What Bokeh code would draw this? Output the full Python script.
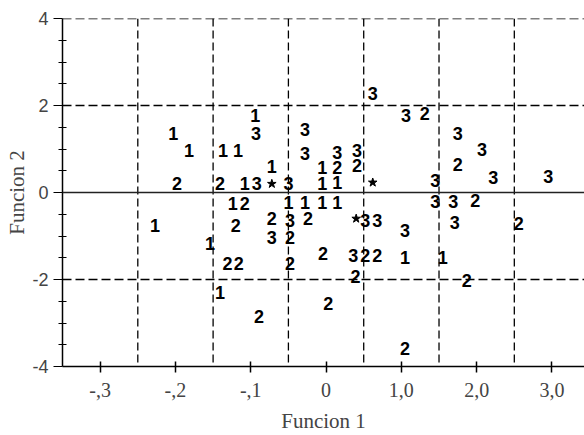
from bokeh.plotting import figure
from bokeh.models import (ColumnDataSource, FixedTicker, Span, Range1d)
from bokeh.core.properties import value
from bokeh.embed import file_html
from bokeh.resources import INLINE

# --- data (discriminant function scores) ---
g1_x = [-2.03, -1.82, -1.37, -1.17, -0.94, -0.72, -1.08, -1.24, -0.50, -0.28,
        -0.05, 0.15, -0.05, 0.15, -0.05, -2.27, -1.54, -1.41, 1.05, 1.55]
g1_y = [1.36, 0.97, 0.97, 0.97, 1.77, 0.60, 0.20, -0.25, -0.22, -0.23,
        -0.23, -0.23, 0.20, 0.23, 0.57, -0.76, -1.17, -2.30, -1.49, -1.49]

g2_x = [-1.98, -1.41, -1.08, -1.20, -0.72, -0.24, -0.48, -1.31, -1.16, -0.48,
        -0.89, 0.15, 0.41, -0.04, 0.52, 0.68, 0.39, 0.03, 1.05, 1.87,
        2.56, 1.98, 1.75, 1.31]
g2_y = [0.20, 0.20, -0.25, -0.76, -0.60, -0.60, -1.03, -1.63, -1.63, -1.63,
        -2.85, 0.57, 0.62, -1.40, -1.45, -1.45, -1.93, -2.55, -3.58, -2.02,
        -0.71, -0.18, 0.64, 1.82]

g3_x = [-0.93, -0.92, -0.50, -0.28, -0.28, 0.15, 0.41, -0.48, -0.72, 0.52,
        0.68, 1.05, 0.36, 0.62, 1.06, 1.75, 2.07, 2.22, 2.95, 1.45,
        1.45, 1.69, 1.71]
g3_y = [1.36, 0.20, 0.20, 1.45, 0.90, 0.92, 0.97, -0.64, -1.03, -0.64,
        -0.64, -0.87, -1.45, 2.27, 1.77, 1.36, 1.00, 0.35, 0.37, 0.28,
        -0.20, -0.20, -0.69]

centroid_x = [-0.72, 0.62, 0.40]
centroid_y = [0.20, 0.23, -0.60]

x_ticks = [-3, -2, -1, 0, 1, 2, 3]
x_tick_labels = ["-,3", "-,2", "-,1", "0", "1,0", "2,0", "3,0"]
y_ticks = [-4, -2, 0, 2, 4]
y_tick_labels = ["-4", "-2", "0", "2", "4"]
y_minor = [-3.5, -3, -2.5, -1.5, -1, -0.5, 0.5, 1, 1.5, 2.5, 3, 3.5]
v_lines = [-2.5, -1.5, -0.5, 0.5, 1.5, 2.5]
h_dashed = [-2, 2, 4]

xs = g1_x + g2_x + g3_x
ys = g1_y + g2_y + g3_y
labels = ["1"] * len(g1_x) + ["2"] * len(g2_x) + ["3"] * len(g3_x)
src = ColumnDataSource(dict(x=xs, y=ys, t=labels))

p = figure(width=584, height=435, output_backend="svg", toolbar_location=None,
           x_range=Range1d(-3.5, 3.432), y_range=Range1d(-4, 4),
           min_border_left=62, min_border_right=0, min_border_top=18,
           min_border_bottom=69)
p.outline_line_color = None
p.background_fill_color = "white"
p.border_fill_color = "white"
p.xgrid.visible = False
p.ygrid.visible = False

for xv in v_lines:
    p.add_layout(Span(location=xv, dimension="height", line_color="black",
                      line_width=1.3, line_dash="8 4"))
for yv in h_dashed:
    p.add_layout(Span(location=yv, dimension="width", line_color="black",
                      line_width=1.3, line_dash="9 4"))
p.add_layout(Span(location=0, dimension="width", line_color="#222222",
                  line_width=1.5))

p.text(x="x", y="y", text="t", source=src, text_align="center",
       text_baseline="middle", text_font=value("Liberation Sans"),
       text_font_style="bold", text_font_size="18px", text_color="black")
p.scatter(centroid_x, centroid_y, marker="star", size=9, color="black")

# x axis
p.xaxis.ticker = FixedTicker(ticks=x_ticks)
p.xaxis.major_label_overrides = {t: l for t, l in zip(x_ticks, x_tick_labels)}
p.xaxis.major_tick_in = 5
p.xaxis.major_tick_out = 6
p.xaxis.minor_tick_line_color = None
p.xaxis.major_label_text_font = "Liberation Serif"
p.xaxis.major_label_text_font_size = "20px"
p.xaxis.major_label_standoff = 10
p.xaxis.axis_line_width = 1.5
p.xaxis.major_tick_line_width = 1.5
p.xaxis.axis_label = "Funcion 1"
p.xaxis.axis_label_text_font = "Liberation Serif"
p.xaxis.axis_label_text_font_style = "normal"
p.xaxis.axis_label_text_font_size = "21px"
p.xaxis.axis_label_standoff = 9

# y axis
p.yaxis.ticker = FixedTicker(ticks=y_ticks, minor_ticks=y_minor)
p.yaxis.major_label_overrides = {t: l for t, l in zip(y_ticks, y_tick_labels)}
p.yaxis.major_tick_in = 0
p.yaxis.major_tick_out = 9
p.yaxis.minor_tick_in = 4
p.yaxis.minor_tick_out = 4
p.yaxis.major_label_text_font = "Liberation Sans"
p.yaxis.major_label_text_font_size = "18px"
p.yaxis.major_label_standoff = 5
p.yaxis.axis_line_width = 1.5
p.yaxis.axis_label = "Funcion 2"
p.yaxis.axis_label_text_font = "Liberation Serif"
p.yaxis.axis_label_text_font_style = "normal"
p.yaxis.axis_label_text_font_size = "21px"
p.yaxis.axis_label_standoff = 0

open("out.html", "w").write(file_html(p, INLINE))
